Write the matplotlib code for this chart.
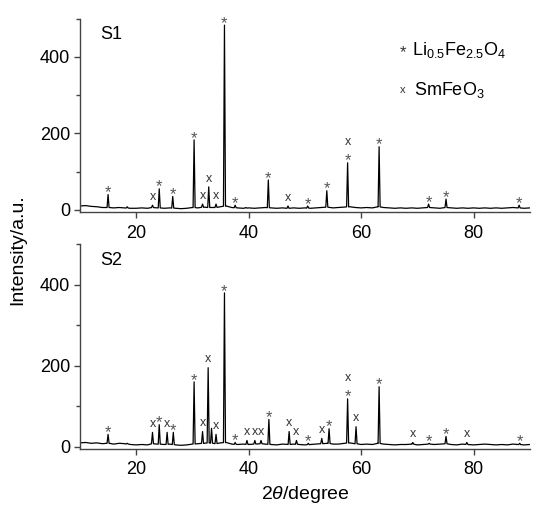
import numpy as np
import matplotlib
matplotlib.use("Agg")
import matplotlib.pyplot as plt
from matplotlib.ticker import MultipleLocator

plt.rcParams["font.family"] = ["Liberation Sans", "DejaVu Sans"]
plt.rcParams["mathtext.fontset"] = "custom"
plt.rcParams["mathtext.rm"] = "Liberation Sans"
plt.rcParams["mathtext.it"] = "Liberation Sans:italic"

#%% data
two_theta = np.arange(10, 91)

base_s1 = [10, 11, 9, 8, 6, 6, 5, 6, 5, 4, 4, 5, 4, 6, 5, 4, 5, 4, 3, 4,
           6, 5, 7, 6, 6, 8, 10, 6, 5, 4, 5, 4, 5, 6, 5, 4, 5, 4, 5, 4,
           5, 4, 5, 6, 7, 5, 6, 7, 8, 6, 5, 6, 5, 8, 6, 5, 4, 5, 4, 5,
           4, 5, 6, 5, 4, 6, 5, 4, 5, 4, 5, 4, 5, 4, 5, 4, 5, 6, 5, 4, 5]
base_s2 = [9, 10, 8, 9, 7, 8, 6, 8, 7, 5, 4, 5, 4, 7, 6, 5, 6, 4, 3, 4,
           6, 7, 8, 9, 7, 9, 10, 6, 5, 6, 5, 6, 7, 6, 5, 4, 6, 5, 6, 5,
           4, 5, 6, 7, 8, 6, 6, 8, 9, 7, 5, 6, 5, 8, 6, 5, 4, 5, 5, 6,
           4, 5, 6, 5, 6, 7, 5, 4, 6, 5, 4, 5, 6, 5, 4, 5, 4, 6, 5, 4, 5]

peak_pos_s1 = [15.0, 18.4, 22.9, 24.1, 26.5, 30.3, 31.8, 32.9, 34.2, 35.7,
               37.6, 39.5, 43.5, 47.0, 50.5, 53.9, 57.6, 63.2, 72.0, 75.1, 88.1]
peak_int_s1 = [40, 8, 12, 55, 35, 183, 15, 60, 15, 483,
               12, 6, 78, 10, 10, 50, 123, 165, 15, 28, 12]

peak_pos_s2 = [15.0, 18.4, 22.9, 24.1, 25.5, 26.6, 30.3, 31.8, 32.8, 33.4,
               34.2, 35.7, 37.6, 39.7, 41.1, 42.2, 43.6, 47.2, 48.5, 50.6,
               53.0, 54.3, 57.6, 59.1, 63.2, 69.2, 72.1, 75.1, 78.8, 88.2]
peak_int_s2 = [30, 8, 35, 54, 35, 35, 160, 37, 195, 45,
               30, 380, 10, 15, 15, 15, 67, 37, 15, 8,
               20, 44, 118, 49, 148, 10, 8, 25, 10, 8]

star_s1 = [15.0, 24.1, 26.5, 30.3, 35.7, 37.6, 43.5, 50.5, 53.9, 57.6, 63.2, 72.0, 75.1, 88.1]
cross_s1 = [22.9, 31.8, 32.9, 34.2, 47.0, 57.6]

star_s2 = [15.0, 24.1, 26.6, 30.3, 35.7, 37.6, 43.6, 50.6, 54.3, 57.6, 63.2, 72.1, 75.1, 88.2]
cross_s2 = [22.9, 25.5, 31.8, 32.8, 34.2, 39.7, 41.1, 42.2, 47.2, 48.5, 53.0, 57.6, 59.1, 69.2, 78.8]

x_ticks = [20, 40, 60, 80]
y_ticks = [0, 200, 400]


#%%
def pattern(base, pos, inten, w=0.18):
    # baseline vertices plus a narrow spike at every peak
    pts = [(x, b) for x, b in zip(two_theta, base)
           if min(abs(x - p) for p in pos) > w]
    for p, h in zip(pos, inten):
        b = np.interp(p, two_theta, base)
        pts += [(p - w, b), (p, h), (p + w, b)]
    pts.sort()
    return np.array(pts)


def panel(ax, base, pos, inten, stars, crosses, label):
    xy = pattern(base, pos, inten)
    ax.plot(xy[:, 0], xy[:, 1], color = "black", lw = 0.9)

    lookup = dict(zip(pos, inten))
    for p in stars:
        ax.annotate("*", (p, lookup[p]), xytext = (0, -2), textcoords = "offset points",
                    ha = "center", va = "baseline", fontsize = 12, color = "#555555",
                    annotation_clip = False)
    for p in crosses:
        dy = 15 if p in stars else 6
        ax.annotate("x", (p, lookup[p]), xytext = (0, dy), textcoords = "offset points",
                    ha = "center", va = "center", fontsize = 9, color = "#333333")

    ax.set_xlim(10, 90)
    ax.set_ylim(-6, 500)
    ax.set_xticks(x_ticks)
    ax.set_yticks(y_ticks)
    ax.yaxis.set_minor_locator(MultipleLocator(100))
    for s in ["top", "right"]:
        ax.spines[s].set_visible(False)
    for s in ["left", "bottom"]:
        ax.spines[s].set_color("#444444")
        ax.spines[s].set_linewidth(1.0)
    ax.tick_params(which = "major", length = 4, width = 1, color = "#444444",
                   labelsize = 13, pad = 3)
    ax.tick_params(axis = "x", pad = 5)
    ax.tick_params(which = "minor", length = 3, width = 1, color = "#444444")
    ax.text(0.044, 0.92, label, transform = ax.transAxes, fontsize = 13,
            ha = "left", va = "center")


fig = plt.figure(figsize = (5.33, 5.05), dpi = 100)
ax1 = fig.add_axes([0.150, 0.580, 0.844, 0.383])
ax2 = fig.add_axes([0.150, 0.111, 0.844, 0.405])

panel(ax1, base_s1, peak_pos_s1, peak_int_s1, star_s1, cross_s1, "S1")
panel(ax2, base_s2, peak_pos_s2, peak_int_s2, star_s2, cross_s2, "S2")

# legend
ax1.text(0.718, 0.80, "*", transform = ax1.transAxes, fontsize = 12,
         ha = "center", va = "baseline", color = "#333333")
ax1.text(0.738, 0.837, r"Li$_{0.5}$Fe$_{2.5}$O$_4$", transform = ax1.transAxes,
         fontsize = 13, ha = "left", va = "center")
ax1.text(0.718, 0.63, "x", transform = ax1.transAxes, fontsize = 8,
         ha = "center", va = "center", color = "#333333")
ax1.text(0.742, 0.63, r"SmFeO$_3$", transform = ax1.transAxes,
         fontsize = 13, ha = "left", va = "center")

fig.text(0.034, 0.505, "Intensity/a.u.", rotation = 90, fontsize = 14,
         ha = "center", va = "center")
fig.text(0.572, 0.02, r"2$\theta$/degree", fontsize = 14, ha = "center", va = "center")

fig.savefig("out.png", dpi = 100, facecolor = "w")
